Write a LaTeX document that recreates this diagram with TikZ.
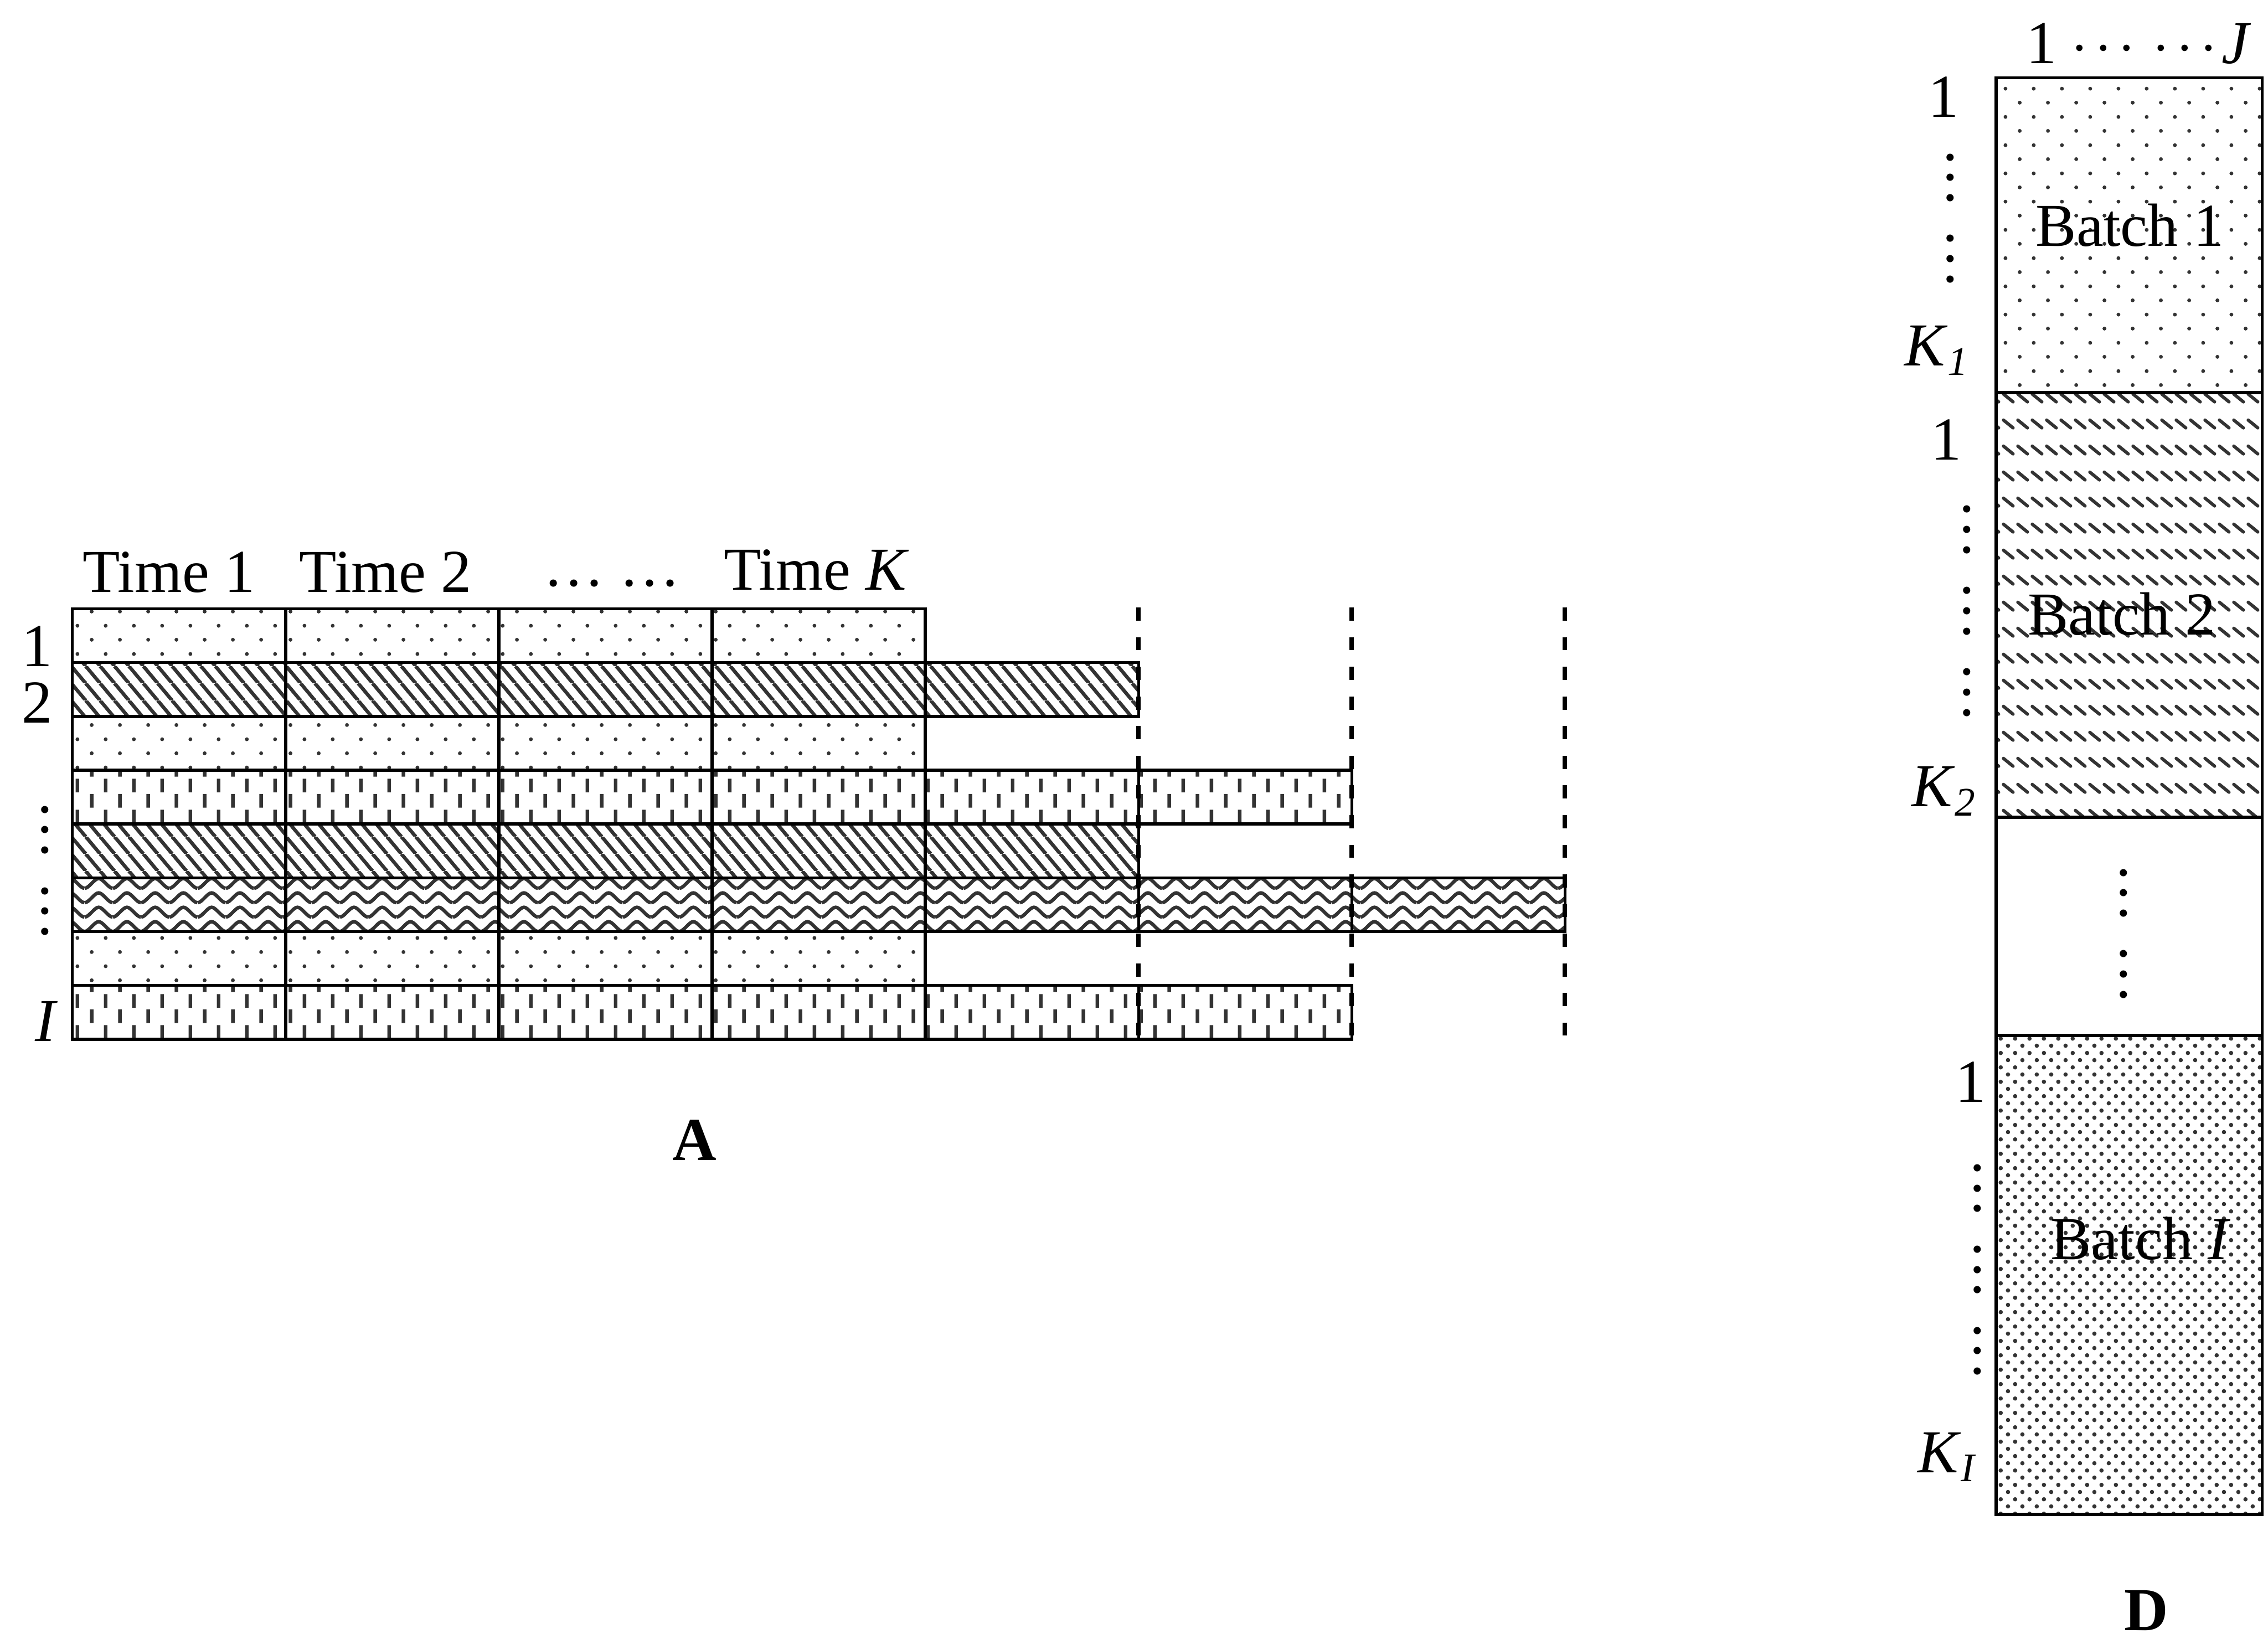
\documentclass[tikz,border=0pt]{standalone}
\usepackage{fontspec}
\setmainfont{Liberation Serif}
\usetikzlibrary{patterns}

% staggered dots (batch 1 and the A rows), and a finer copy (batch I)
\pgfdeclarepatternformonly{sparsedots}{\pgfpointorigin}{\pgfpoint{0.196cm}{0.196cm}}%
 {\pgfpoint{0.196cm}{0.196cm}}{%
  \pgfpathcircle{\pgfpoint{0.049cm}{0.049cm}}{0.38pt}%
  \pgfpathcircle{\pgfpoint{0.147cm}{0.147cm}}{0.38pt}%
  \pgfusepath{fill}}
\pgfdeclarepatternformonly{densedots}{\pgfpointorigin}{\pgfpoint{0.099cm}{0.099cm}}%
 {\pgfpoint{0.099cm}{0.099cm}}{%
  \pgfpathcircle{\pgfpoint{0.02475cm}{0.02475cm}}{0.42pt}%
  \pgfpathcircle{\pgfpoint{0.07425cm}{0.07425cm}}{0.42pt}%
  \pgfusepath{fill}}
% steep hatching of the bars
\pgfdeclarepatternformonly{rowhatch}{\pgfpointorigin}{\pgfpoint{0.099cm}{0.118cm}}%
 {\pgfpoint{0.099cm}{0.118cm}}{%
  \pgfsetlinewidth{0.7pt}%
  \pgfpathmoveto{\pgfpoint{0cm}{0.118cm}}\pgfpathlineto{\pgfpoint{0.099cm}{0cm}}%
  \pgfpathmoveto{\pgfpoint{-0.099cm}{0.118cm}}\pgfpathlineto{\pgfpoint{0cm}{0cm}}%
  \pgfpathmoveto{\pgfpoint{0.099cm}{0.118cm}}\pgfpathlineto{\pgfpoint{0.198cm}{0cm}}%
  \pgfusepath{stroke}}
% short slanted strokes of batch 2
\pgfdeclarepatternformonly{dashhatch}{\pgfpointorigin}{\pgfpoint{0.101cm}{0.181cm}}%
 {\pgfpoint{0.101cm}{0.181cm}}{%
  \pgfsetlinewidth{0.65pt}\pgfsetroundcap
  \pgfpathmoveto{\pgfpoint{0.0165cm}{0.1180cm}}\pgfpathlineto{\pgfpoint{0.0845cm}{0.0630cm}}%
  \pgfusepath{stroke}}
% staggered vertical dashes, period fitted to the row height
\pgfdeclarepatternformonly{tickdashes}{\pgfpointorigin}{\pgfpoint{0.196cm}{0.2125714cm}}%
 {\pgfpoint{0.196cm}{0.2125714cm}}{%
  \pgfsetlinewidth{0.7pt}%
  \pgfpathmoveto{\pgfpoint{0.049cm}{0.005643cm}}\pgfpathlineto{\pgfpoint{0.049cm}{0.100643cm}}%
  \pgfpathmoveto{\pgfpoint{0.147cm}{0.111929cm}}\pgfpathlineto{\pgfpoint{0.147cm}{0.206929cm}}%
  \pgfusepath{stroke}}
% wavy lines
\pgfdeclarepatternformonly{wavelines}{\pgfpointorigin}{\pgfpoint{0.196cm}{0.0995486cm}}%
 {\pgfpoint{0.196cm}{0.0995486cm}}{%
  \pgfsetlinewidth{0.7pt}%
  \pgfpathmoveto{\pgfpoint{0cm}{0.014932cm}}%
  \pgfpathcurveto{\pgfpoint{0.03cm}{0.014932cm}}{\pgfpoint{0.068cm}{0.084616cm}}{\pgfpoint{0.098cm}{0.084616cm}}%
  \pgfpathcurveto{\pgfpoint{0.128cm}{0.084616cm}}{\pgfpoint{0.166cm}{0.014932cm}}{\pgfpoint{0.196cm}{0.014932cm}}%
  \pgfusepath{stroke}}

% column of vertical dots, in groups of three
\newcommand{\vdotsrun}[1]{\vbox{\baselineskip4pt\lineskiplimit0pt
  \hbox{.}\hbox{.}\hbox{.}%
  \ifnum#1>1 \hbox{}\hbox{.}\hbox{.}\hbox{.}\fi
  \ifnum#1>2 \hbox{}\hbox{.}\hbox{.}\hbox{.}\fi}}
\newcommand{\cdotrun}{\ensuremath{{\cdotp}\mkern2mu{\cdotp}\mkern2mu{\cdotp}}}

\begin{document}
\begin{tikzpicture}[line cap=butt,
  cell/.style={draw,line width=0.6pt,pattern color=black!80},
  cutline/.style={line width=0.9pt,dash pattern=on 0.091cm off 0.114cm},
  lbl/.style={font=\fontsize{12}{14}\selectfont,inner sep=0pt,anchor=base},
  caption/.style={lbl,font=\fontsize{12}{14}\selectfont\bfseries}]
 \useasboundingbox (0,0) rectangle (15.68,11.33);
 % A: one bar per batch, one cell per time
 \foreach \r/\pat/\n in {1/sparsedots/4,2/rowhatch/5,3/sparsedots/4,4/tickdashes/6,
   5/rowhatch/5,6/wavelines/7,7/sparsedots/4,8/tickdashes/6}
  \foreach \c in {1,...,\n}
   \draw[cell,pattern/.expanded=\pat]
    ({0.50+(\c-1)*1.4743},{7.12114-(\r-1)*0.372}) rectangle ++(1.4743,-0.372);
 \foreach \x in {7.870,9.344,10.818}
  \draw[cutline] (\x,7.13) -- (\x,4.17);
 \node[lbl] (time1) at (1.167,7.236) {Time 1};
 \node[lbl] (time2) at (2.665,7.236) {Time 2};
 \node[lbl] (timedots) at (4.23,7.277) {… …};
 \node[lbl] (timeK) at (5.645,7.25) {Time \textit{K}};
 \node[lbl] (row1) at (0.256,6.722) {1};
 \node[lbl] (row2) at (0.256,6.334) {2};
 \node[lbl] (rowdots) at (0.313,4.870) {\vdotsrun{2}};
 \node[lbl] (rowI) at (0.320,4.131) {\textit{I}};
 \node[caption] (capA) at (4.80,3.31) {A};

 % D: batches stacked on top of each other
 \draw[cell,pattern=sparsedots] (13.80,10.793) rectangle (15.64,8.616);
 \draw[cell,pattern=dashhatch] (13.80,8.616) rectangle (15.64,5.680);
 \draw[cell] (13.80,5.680) rectangle (15.64,4.172);
 \draw[cell,pattern=densedots] (13.80,4.172) rectangle (15.64,0.861);
 \node[lbl,anchor=base west] (cols) at (14.00,10.893)
  {1\hspace{0.1cm}\cdotrun\hspace{0.12cm}\cdotrun\hspace{0.03cm}\textit{J}};
 \node[lbl] (bat1) at (14.725,9.630) {Batch 1};
 \node[lbl] (bat2) at (14.670,6.943) {Batch 2};
 \node[lbl] (batI) at (14.800,2.622) {Batch \textit{I}};
 \node[lbl] (middots) at (14.68,4.434) {\vdotsrun{2}};
 \node[lbl] (first1) at (13.435,10.52) {1};
 \node[lbl] (dots1) at (13.484,9.38) {\vdotsrun{2}};
 \node[lbl,anchor=base east] (last1) at (13.63,8.80) {\textit{K}\textsubscript{\textit{1}}};
 \node[lbl] (first2) at (13.455,8.15) {1};
 \node[lbl] (dots2) at (13.60,6.384) {\vdotsrun{3}};
 \node[lbl,anchor=base east] (last2) at (13.68,5.753) {\textit{K}\textsubscript{\textit{2}}};
 \node[lbl] (firstI) at (13.625,3.71) {1};
 \node[lbl] (dotsI) at (13.67,1.83) {\vdotsrun{3}};
 \node[lbl,anchor=base east] (lastI) at (13.687,1.15) {\textit{K}\textsubscript{\textit{I}}};
 \node[caption] (capD) at (14.84,0.06) {D};
\end{tikzpicture}
\end{document}
